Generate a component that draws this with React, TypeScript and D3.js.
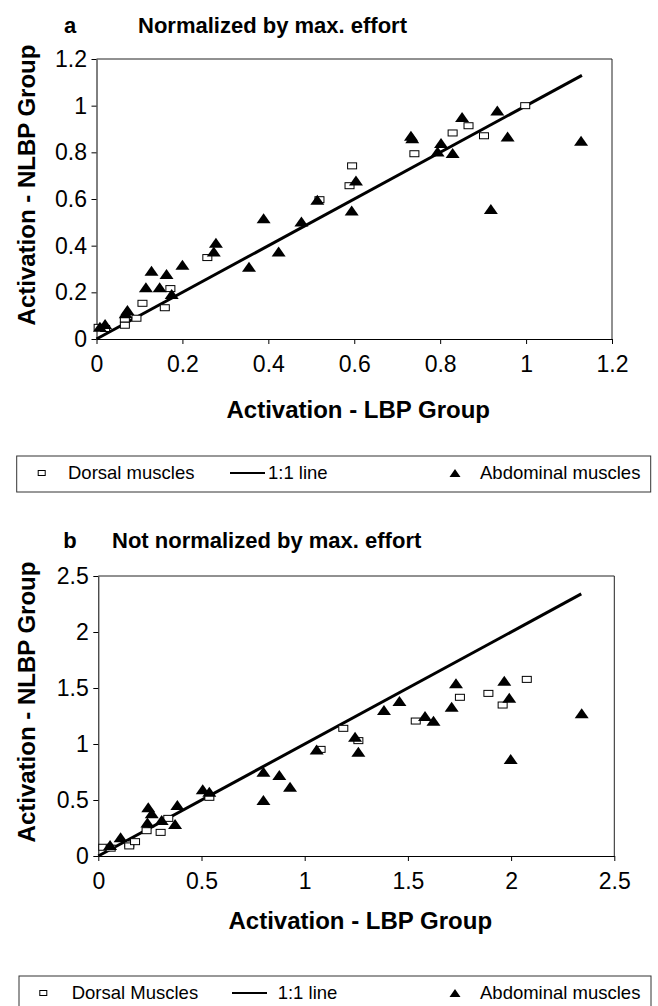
import { useRef, useEffect } from "react";
import * as d3 from "d3";

const W = 658;
const H = 1006;
const FONT = "'Liberation Sans', Arial, Helvetica, sans-serif";

// ---- panel a: normalized by max. effort ----
const ticksA = [0, 0.2, 0.4, 0.6, 0.8, 1, 1.2];
const dorsalA: [number, number][] = [
  [0.005, 0.05], [0.02, 0.045], [0.066, 0.085], [0.066, 0.059], [0.093, 0.089],
  [0.107, 0.153], [0.159, 0.134], [0.172, 0.216], [0.258, 0.349], [0.519, 0.597],
  [0.589, 0.657], [0.595, 0.742], [0.74, 0.794], [0.829, 0.883], [0.866, 0.914],
  [0.902, 0.871], [0.998, 1.0],
];
const abdominalA: [number, number][] = [
  [0.008, 0.053], [0.02, 0.064], [0.068, 0.11], [0.072, 0.124], [0.115, 0.222],
  [0.128, 0.293], [0.147, 0.222], [0.163, 0.279], [0.175, 0.193], [0.2, 0.318],
  [0.278, 0.413], [0.273, 0.375], [0.355, 0.31], [0.389, 0.518], [0.424, 0.375],
  [0.477, 0.504], [0.514, 0.597], [0.594, 0.551], [0.604, 0.679], [0.732, 0.871],
  [0.735, 0.86], [0.794, 0.804], [0.802, 0.84], [0.829, 0.797], [0.851, 0.951],
  [0.918, 0.557], [0.933, 0.979], [0.957, 0.868], [1.128, 0.85],
];
const lineA = [0, 1.13];

// ---- panel b: not normalized ----
const ticksB = [0, 0.5, 1, 1.5, 2, 2.5];
const dorsalB: [number, number][] = [
  [0.024, 0.078], [0.06, 0.07], [0.15, 0.107], [0.15, 0.09], [0.178, 0.128],
  [0.234, 0.226], [0.302, 0.211], [0.339, 0.336], [0.538, 0.524], [1.077, 0.952],
  [1.187, 1.14], [1.26, 1.03], [1.538, 1.205], [1.752, 1.417], [1.89, 1.452],
  [1.959, 1.348], [2.076, 1.577],
];
const abdominalB: [number, number][] = [
  [0.057, 0.098], [0.108, 0.167], [0.242, 0.435], [0.259, 0.381], [0.238, 0.298],
  [0.307, 0.321], [0.372, 0.286], [0.383, 0.455], [0.506, 0.595], [0.538, 0.574],
  [0.8, 0.753], [0.8, 0.5], [0.877, 0.723], [0.929, 0.619], [1.058, 0.952],
  [1.244, 1.065], [1.26, 0.931], [1.384, 1.304], [1.459, 1.384], [1.583, 1.25],
  [1.624, 1.208], [1.712, 1.333], [1.733, 1.542], [1.967, 1.565], [1.991, 1.413],
  [1.998, 0.866], [2.342, 1.274],
];
const lineB = [0, 2.34];

const legendA = ["Dorsal muscles", "1:1 line", "Abdominal muscles"];
const legendB = ["Dorsal Muscles", "1:1 line", "Abdominal muscles"];

const panels = [
  {
    letter: "a", title: "Normalized by max. effort", ticks: ticksA,
    dorsal: dorsalA, abdominal: abdominalA, line: lineA, legend: legendA,
    left: 96.5, right: 612, top: 59, bottom: 339,
    letterX: 70, titleX: 138, titleY: 25, xTitleY: 410,
    legendBox: [16.7, 456, 650.7, 492], legendPos: [41.7, 68, 230, 265, 268, 455, 480],
  },
  {
    letter: "b", title: "Not normalized by max. effort", ticks: ticksB,
    dorsal: dorsalB, abdominal: abdominalB, line: lineB, legend: legendB,
    left: 98.3, right: 614.3, top: 576, bottom: 856,
    letterX: 70, titleX: 112, titleY: 540, xTitleY: 921,
    legendBox: [19, 976, 651, 1012], legendPos: [43.3, 71.7, 232, 267, 277.7, 455, 480],
  },
];

const tri = (cx: number, cy: number, w: number, h: number) =>
  `M${cx - w / 2},${cy + h / 2}L${cx},${cy - h / 2}L${cx + w / 2},${cy + h / 2}Z`;

export default function App() {
  const svgRef = useRef<SVGSVGElement>(null);

  useEffect(() => {
    const svg = d3.select(svgRef.current);
    svg.selectAll("*").remove();
    svg.append("rect").attr("width", W).attr("height", H).attr("fill", "#fff");

    panels.forEach((p) => {
      const max = p.ticks[p.ticks.length - 1];
      const x = d3.scaleLinear().domain([0, max]).range([p.left, p.right]);
      const y = d3.scaleLinear().domain([0, max]).range([p.bottom, p.top]);
      const g = svg.append("g");

      // plot frame
      g.append("path")
        .attr("d", `M${p.left},${p.top}H${p.right}V${p.bottom}`)
        .attr("fill", "none")
        .attr("stroke", "#222")
        .attr("stroke-width", 1);

      // axes
      const xa = g.append("g")
        .attr("transform", `translate(0,${p.bottom})`)
        .call(d3.axisBottom(x).tickValues(p.ticks).tickSize(5).tickSizeOuter(0)
          .tickPadding(12).tickFormat((d) => String(d)));
      const ya = g.append("g")
        .attr("transform", `translate(${p.left},0)`)
        .call(d3.axisLeft(y).tickValues(p.ticks).tickSize(5).tickSizeOuter(0)
          .tickPadding(4.5).tickFormat((d) => String(d)));
      [xa, ya].forEach((a) => {
        a.attr("font-family", FONT).attr("font-size", 23);
        a.selectAll("path,line").attr("stroke", "#000");
        a.selectAll("text").attr("fill", "#000");
      });

      // 1:1 line
      g.append("path")
        .attr("d", d3.line()([[x(p.line[0]), y(p.line[0])], [x(p.line[1]), y(p.line[1])]]))
        .attr("stroke", "#000")
        .attr("stroke-width", 3)
        .attr("fill", "none");

      // dorsal squares
      g.selectAll(".sq")
        .data(p.dorsal)
        .join("rect")
        .attr("x", (d) => x(d[0]) - 4.5)
        .attr("y", (d) => y(d[1]) - 3)
        .attr("width", 9)
        .attr("height", 6)
        .attr("fill", "#fff")
        .attr("stroke", "#000")
        .attr("stroke-width", 1);

      // abdominal triangles
      g.selectAll(".tri")
        .data(p.abdominal)
        .join("path")
        .attr("d", (d) => tri(x(d[0]), y(d[1]), 14, 10))
        .attr("fill", "#000");

      // titles
      g.append("text")
        .attr("x", p.letterX).attr("y", p.titleY).attr("dy", "0.35em")
        .attr("text-anchor", "middle")
        .attr("font-family", FONT).attr("font-weight", "bold").attr("font-size", 22)
        .text(p.letter);
      g.append("text")
        .attr("x", p.titleX).attr("y", p.titleY).attr("dy", "0.35em")
        .attr("font-family", FONT).attr("font-weight", "bold").attr("font-size", 22)
        .text(p.title);
      g.append("text")
        .attr("x", (p.left + p.right) / 2 + 4).attr("y", p.xTitleY).attr("dy", "0.35em")
        .attr("text-anchor", "middle")
        .attr("font-family", FONT).attr("font-weight", "bold").attr("font-size", 24)
        .text("Activation - LBP Group");
      g.append("text")
        .attr("transform", `translate(27,${(p.top + p.bottom) / 2 - 14}) rotate(-90)`)
        .attr("dy", "0.35em")
        .attr("text-anchor", "middle")
        .attr("font-family", FONT).attr("font-weight", "bold").attr("font-size", 24)
        .text("Activation - NLBP Group");

      // legend
      const [bx0, by0, bx1, by1] = p.legendBox;
      const [sqX, t1X, l0, l1, t2X, trX, t3X] = p.legendPos;
      const ly = by0 + 17;
      const lg = g.append("g").attr("font-family", FONT).attr("font-size", 18.5);
      lg.append("rect")
        .attr("x", bx0).attr("y", by0).attr("width", bx1 - bx0).attr("height", by1 - by0)
        .attr("fill", "#fff").attr("stroke", "#333").attr("stroke-width", 1);
      lg.append("rect")
        .attr("x", sqX - 3.5).attr("y", ly - 2.5).attr("width", 7).attr("height", 5)
        .attr("fill", "#fff").attr("stroke", "#000");
      lg.append("text").attr("x", t1X).attr("y", ly).attr("dy", "0.35em").text(p.legend[0]);
      lg.append("line")
        .attr("x1", l0).attr("x2", l1).attr("y1", ly).attr("y2", ly)
        .attr("stroke", "#000").attr("stroke-width", 2);
      lg.append("text").attr("x", t2X).attr("y", ly).attr("dy", "0.35em").text(p.legend[1]);
      lg.append("path").attr("d", tri(trX, ly, 11, 8)).attr("fill", "#000");
      lg.append("text").attr("x", t3X).attr("y", ly).attr("dy", "0.35em").text(p.legend[2]);
    });
  }, []);

  return (
    <svg
      ref={svgRef}
      width={W}
      height={H}
      style={{ position: "absolute", left: 0, top: 0, display: "block" }}
    />
  );
}
